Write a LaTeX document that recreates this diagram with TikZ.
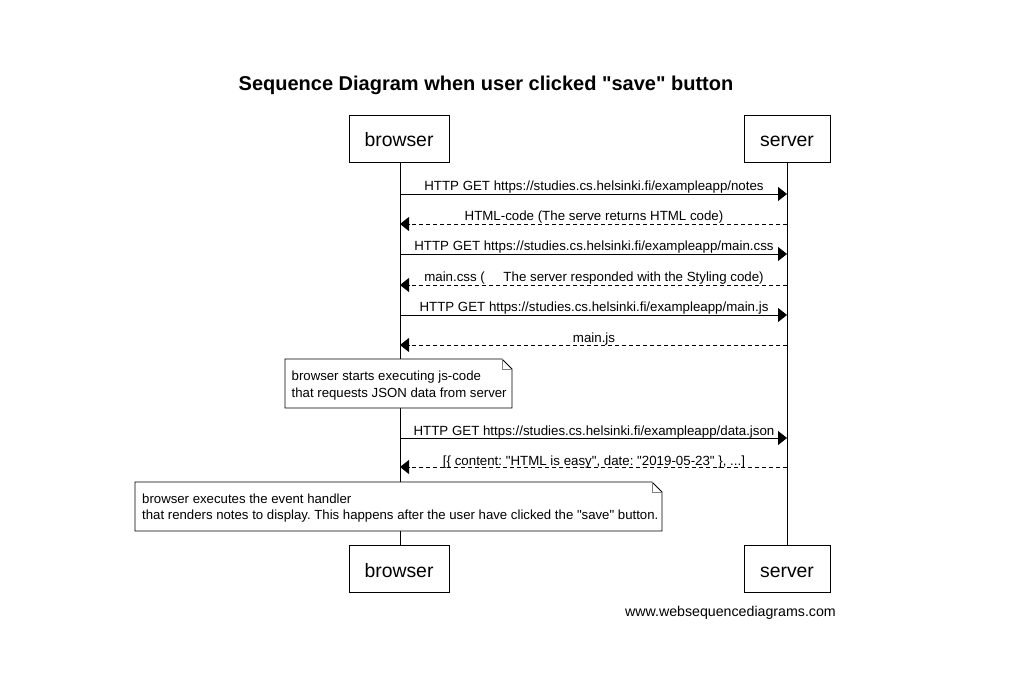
\documentclass[tikz,border=0pt]{standalone}
\usepackage{fontspec}
\setmainfont{Liberation Sans}[Ligatures=TeXOff]
\usetikzlibrary{arrows.meta}
\frenchspacing
\begin{document}
\begin{tikzpicture}[x=1pt,y=-1pt,
  actor/.style={draw,line width=0.8pt,minimum height=47pt,inner sep=0pt,text height=16pt,text depth=0pt,font=\fontsize{19.4}{21}\selectfont},
  life/.style={line width=0.8pt},
  msg/.style={line width=0.8pt,-{Triangle[length=9pt,width=14pt]}},
  reply/.style={msg,dash pattern=on 4pt off 3pt},
  lbl/.style={font=\fontsize{13.3}{15}\selectfont,inner sep=0pt,anchor=base},
  notebox/.style={line width=0.8pt,fill=white},
  notefold/.style={gray,line width=0.8pt},
  notetext/.style={font=\fontsize{13.2}{16.5}\selectfont,align=left,inner sep=0pt,anchor=north west}]
\useasboundingbox (0,0) rectangle (1027,700);
\node[font=\bfseries\fontsize{20}{22}\selectfont,anchor=base] (title) at (486,91) {Sequence Diagram when user clicked "save" button};
% actors
\node[actor,minimum width=100pt] (bt) at (399,138.5) {browser};
\node[actor,minimum width=86pt] (st) at (787,138.5) {server};
\node[actor,minimum width=100pt] (bb) at (399,569) {browser};
\node[actor,minimum width=86pt] (sb) at (787,569) {server};
\coordinate (btl) at (400,162);
\coordinate (bbl) at (400,545.5);
\draw[life] (btl) -- (bbl);
\draw[life] (st.south) -- (sb.north);
% message endpoints
\foreach \i/\y in {1/194,2/224,3/254,4/285,5/315,6/345,7/438,8/467}{
  \coordinate (b\i) at (400,\y);
  \coordinate (s\i) at (787,\y);
}
\draw[msg] (b1) -- (s1);
\node[lbl] (l1) at (594,190.5) {HTTP GET https://studies.cs.helsinki.fi/exampleapp/notes};
\draw[reply] (s2) -- (b2);
\node[lbl] (l2) at (594,220.5) {HTML-code (The serve returns HTML code)};
\draw[msg] (b3) -- (s3);
\node[lbl] (l3) at (594,250.5) {HTTP GET https://studies.cs.helsinki.fi/exampleapp/main.css};
\draw[reply] (s4) -- (b4);
\node[lbl] (l4) at (594,281.5) {main.css (\hspace{1.4em}The server responded with the Styling code)};
\draw[msg] (b5) -- (s5);
\node[lbl] (l5) at (594,312) {HTTP GET https://studies.cs.helsinki.fi/exampleapp/main.js};
\draw[reply] (s6) -- (b6);
\node[lbl] (l6) at (594,342) {main.js};
% note 1
\draw[notebox] (285,359) -- (502,359) -- (512,369) -- (512,408) -- (285,408) -- cycle;
\draw[notefold] (502,359) -- (502,369) -- (512,369);
\node[notetext] (n1) at (291.5,371) {browser starts executing js-code\\that requests JSON data from server};
\draw[msg] (b7) -- (s7);
\node[lbl] (l7) at (594,435) {HTTP GET https://studies.cs.helsinki.fi/exampleapp/data.json};
\draw[reply] (s8) -- (b8);
\node[lbl] (l8) at (594,465) {[\{ content: "HTML is easy", date: "2019-05-23" \}, ...]};
% note 2
\draw[notebox] (135,482) -- (652,482) -- (662,492) -- (662,531) -- (135,531) -- cycle;
\draw[notefold] (652,482) -- (652,492) -- (662,492);
\node[notetext] (n2) at (142,493.5) {browser executes the event handler\\that renders notes to display. This happens after the user have clicked the "save" button.};
\node[font=\fontsize{14.2}{16}\selectfont,anchor=base east,inner sep=0pt] (foot) at (836,616) {www.websequencediagrams.com};
\end{tikzpicture}
\end{document}
